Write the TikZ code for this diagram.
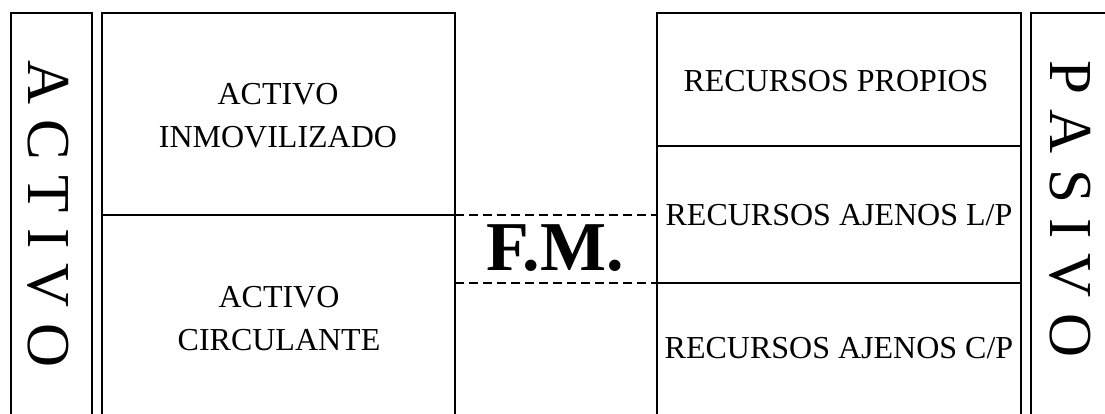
\documentclass[tikz,border=0pt]{standalone}
\usepackage{fontspec}
\setmainfont{Liberation Serif}
\begin{document}
\begin{tikzpicture}[x=1pt,y=-1pt,
  boxline/.style={draw=black,line width=1.4pt},
  fmline/.style={draw=black,line width=1.4pt,dash pattern=on 9pt off 5pt},
  bigletters/.style={font=\fontsize{61}{61}\selectfont,inner sep=0pt,rotate=-90},
  boxtext/.style={font=\fontsize{32}{43}\selectfont,align=center,inner sep=0pt},
  fmtext/.style={font=\fontsize{70}{70}\selectfont\bfseries,inner sep=0pt}]
\useasboundingbox (0,0) rectangle (1105,414);
\fill[white] (0,0) rectangle (1105,414);
% outer frames (open at the bottom edge)
\draw[boxline] (11,420) -- (11,13) -- (92,13) -- (92,420);
\draw[boxline] (102,420) -- (102,13) -- (455,13) -- (455,420);
\draw[boxline] (657,420) -- (657,13) -- (1021,13) -- (1021,420);
\draw[boxline] (1031,420) -- (1031,13) -- (1110,13);
% named reference coordinates
\coordinate (aL) at (102,215);
\coordinate (aR) at (455,215);
\coordinate (pL1) at (657,215);
\coordinate (pL2) at (657,283);
\coordinate (aR2) at (455,283);
\coordinate (p1L) at (657,146);
\coordinate (p1R) at (1021,146);
\coordinate (p2R) at (1021,283);
% divisions
\draw[boxline] (aL) -- (aR);
\draw[boxline] (p1L) -- (p1R);
\draw[boxline] (pL2) -- (p2R);
% F.M. dashed lines
\draw[fmline] (aR) -- (pL1);
\draw[fmline] (aR2) -- (pL2);
% texts
\node[bigletters] (activo) at (48,214) {A C T I V O};
\node[bigletters] (pasivo) at (1070,209) {P A S I V O};
\node[boxtext] (inmov) at (278,115.5) {ACTIVO\\INMOVILIZADO};
\node[boxtext] (circ) at (279,318.5) {ACTIVO\\CIRCULANTE};
\node[boxtext] (rp) at (836,81) {RECURSOS PROPIOS};
\node[boxtext] (rlp) at (839,215) {RECURSOS AJENOS L/P};
\node[boxtext] (rcp) at (839,348) {RECURSOS AJENOS C/P};
\node[fmtext] (fm) at (555,248.5) {F.M.};
\end{tikzpicture}
\end{document}
